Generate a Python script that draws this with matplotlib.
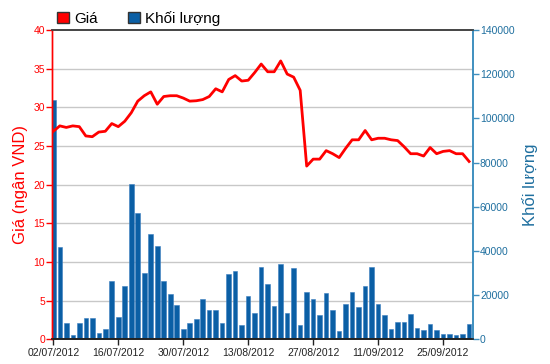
import matplotlib
matplotlib.use("Agg")
import matplotlib.pyplot as plt
from matplotlib.patches import Patch
import numpy as np

# ---- data ----
date_labels = ["02/07/2012", "16/07/2012", "30/07/2012", "13/08/2012",
               "27/08/2012", "11/09/2012", "25/09/2012"]
label_positions = [0, 10, 20, 30, 40, 50, 60]

price = [26.9, 27.6, 27.4, 27.6, 27.5, 26.3, 26.2, 26.8, 26.9, 27.9,
         27.5, 28.2, 29.3, 30.8, 31.5, 32.0, 30.4, 31.4, 31.5, 31.5,
         31.2, 30.8, 30.85, 31.0, 31.4, 32.4, 32.0, 33.6, 34.1, 33.4,
         33.5, 34.5, 35.6, 34.6, 34.6, 36.0, 34.3, 33.9, 32.2, 22.4,
         23.3, 23.3, 24.4, 24.0, 23.5, 24.7, 25.8, 25.8, 27.0, 25.8,
         26.0, 26.0, 25.8, 25.7, 24.9, 24.0, 24.0, 23.7, 24.8, 24.0,
         24.3, 24.4, 24.0, 24.0, 23.0]

volume = [108400, 41700, 7500, 2000, 7500, 9800, 9800, 3000, 4800, 26500,
          10200, 24300, 70200, 57300, 29900, 47800, 42200, 26500, 20400, 15700,
          4800, 7500, 9050, 18100, 13300, 13300, 7500, 29400, 31100, 6300,
          19700, 12000, 32600, 24900, 15200, 34000, 12000, 32100, 6300, 21500,
          18100, 10900, 21100, 13300, 3600, 15800, 21500, 14600, 24300, 32600,
          15800, 10900, 4800, 8000, 8000, 11300, 5300, 4100, 6800, 4100,
          2500, 2500, 2000, 2500, 6800]

price_ticks = [0, 5, 10, 15, 20, 25, 30, 35, 40]
vol_ticks = [0, 20000, 40000, 60000, 80000, 100000, 120000, 140000]

RED = "#ff0000"
BLUE_BAR = "#0b5fa5"
BLUE_AX = "#3f8fbf"
BLUE_TXT = "#1f6f9f"

plt.rcParams['font.family'] = ['Liberation Sans', 'DejaVu Sans']

fig = plt.figure(figsize=(5.5, 3.64), dpi=100)
ax = fig.add_axes([52/550, 1-339.3/364, (473-52)/550, (339.3-30)/364])
ax2 = ax.twinx()
ax.set_zorder(ax2.get_zorder() + 1)
ax.patch.set_visible(False)

x = np.arange(len(price))
scale = vol_ticks[-1] / price_ticks[-1]

# gridlines behind bars
for t in price_ticks[1:-1]:
    ax2.axhline(t * scale, color="#c8c8c8", lw=1.0, zorder=0)

ax2.bar(x, volume, width=0.7, color=BLUE_BAR, edgecolor="#3b7fc0",
        linewidth=0.4, zorder=2)
ax.plot(x, price, color=RED, lw=2.0, zorder=3, solid_joinstyle="round")

ax.set_xlim(-0.2, len(price) - 0.4)
ax.set_ylim(0, 40)
ax2.set_ylim(0, 140000)

ax.set_yticks(price_ticks)
ax.set_yticklabels([str(t) for t in price_ticks])
ax2.set_yticks(vol_ticks)
ax2.set_yticklabels([str(t) for t in vol_ticks])
ax.set_xticks(label_positions)
ax.set_xticklabels(date_labels)

ax.tick_params(axis="y", colors=RED, labelsize=7.5, length=4, width=1, pad=1)
ax2.tick_params(axis="y", colors=BLUE_TXT, labelsize=7.5, length=4, width=1, pad=1)
ax.tick_params(axis="x", colors="#222222", labelsize=7.5, length=4, width=1, pad=2.5)
ax2.tick_params(axis="y", color=BLUE_AX)

for a in (ax, ax2):
    a.spines["left"].set_color(RED)
    a.spines["right"].set_color(BLUE_AX)
    a.spines["top"].set_color("#444444")
    a.spines["bottom"].set_color("#222222")
    a.spines["left"].set_linewidth(1.0)
    a.spines["right"].set_linewidth(1.2)
    a.spines["top"].set_linewidth(1.2)
    a.spines["bottom"].set_linewidth(1.2)

ax.set_ylabel("Giá (ngân VND)", color=RED, fontsize=12, labelpad=4)
ax2.set_ylabel("Khối lượng", color=BLUE_TXT, fontsize=12, labelpad=5)

handles = [Patch(facecolor=RED, edgecolor="#333333", label="Giá"),
           Patch(facecolor=BLUE_BAR, edgecolor="#333333", label="Khối lượng")]
fig.legend(handles=handles, loc="upper left", bbox_to_anchor=(48/550, 0.995),
           ncol=2, frameon=False, fontsize=11, handlelength=0.8,
           handleheight=0.8, handletextpad=0.3, columnspacing=2.0,
           borderaxespad=0.2)

fig.savefig("out.png", dpi=100)
